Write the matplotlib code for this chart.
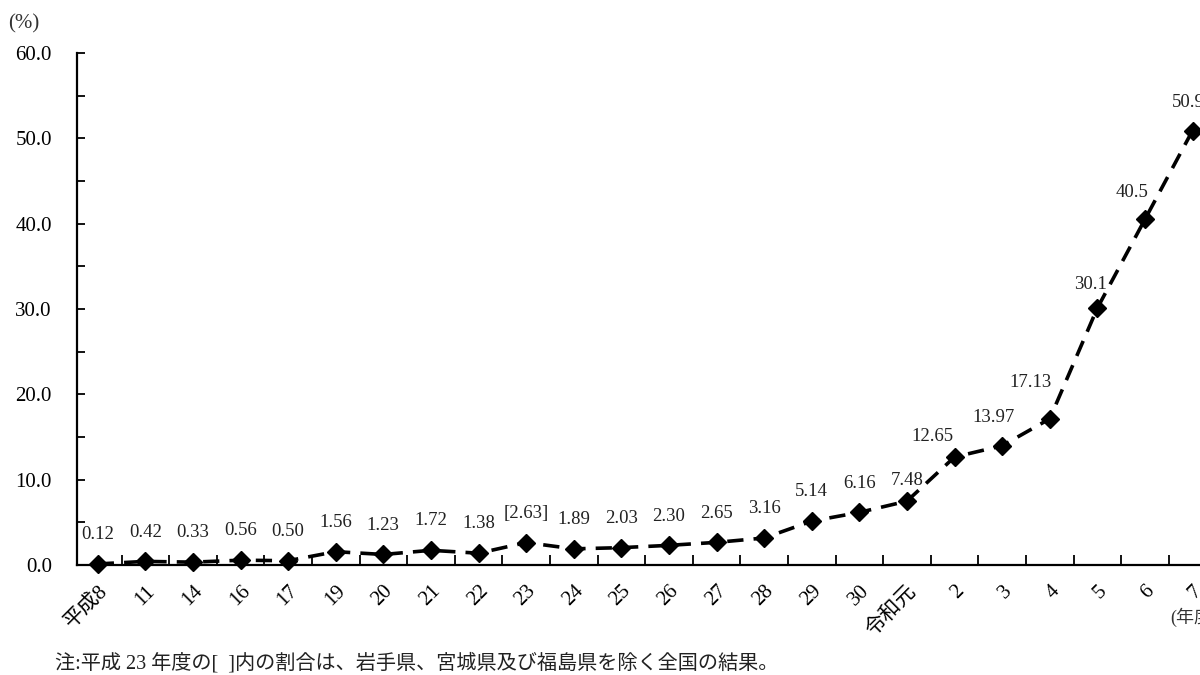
import matplotlib
matplotlib.use("Agg")
import matplotlib.pyplot as plt
from matplotlib.ticker import MultipleLocator

plt.rcParams['font.family'] = ['Liberation Serif', 'Noto Sans CJK JP', 'DejaVu Sans']

categories = ["平成8", "11", "14", "16", "17", "19", "20", "21", "22", "23", "24", "25",
              "26", "27", "28", "29", "30", "令和元", "2", "3", "4", "5", "6", "7"]
values = [0.12, 0.42, 0.33, 0.56, 0.50, 1.56, 1.23, 1.72, 1.38, 2.63, 1.89, 2.03,
          2.30, 2.65, 3.16, 5.14, 6.16, 7.48, 12.65, 13.97, 17.13, 30.1, 40.5, 50.9]
value_labels = ["0.12", "0.42", "0.33", "0.56", "0.50", "1.56", "1.23", "1.72", "1.38",
                "[2.63]", "1.89", "2.03", "2.30", "2.65", "3.16", "5.14", "6.16", "7.48",
                "12.65", "13.97", "17.13", "30.1", "40.5", "50.9"]
y_ticks = [0, 10, 20, 30, 40, 50, 60]
note = "注:平成 23 年度の[  ]内の割合は、岩手県、宮城県及び福島県を除く全国の結果。"

# label offsets in points (style only)
label_dx = [0] * 18 + [-16, -6, -14, -5, -9, -3]
label_dy = [15] * 17 + [9, 9, 14, 20, 11, 13, 14]

fig = plt.figure(figsize=(12, 6.75), dpi=100)
ax = fig.add_axes([0.064, 0.163, 0.9496, 0.7585])

x = list(range(len(categories)))
ax.plot(x, values, color='black', linestyle=(0, (4.5, 2.8)), linewidth=2.6,
        marker='D', markersize=9.5, markerfacecolor='black', markeredgecolor='black',
        clip_on=False, zorder=3)

for i, (v, lab) in enumerate(zip(values, value_labels)):
    ax.annotate(lab, (i, v), xytext=(label_dx[i], label_dy[i]), textcoords='offset points',
                ha='center', va='bottom', fontsize=13.5, color='#222222')

ax.set_xlim(-0.44, len(categories) - 0.5)
ax.set_ylim(0, 60)

ax.set_yticks(y_ticks)
ax.set_yticklabels([f"{t:.1f}" for t in y_ticks], fontsize=15)
ax.yaxis.set_minor_locator(MultipleLocator(5))
ax.tick_params(axis='y', which='both', direction='in', length=6, width=1.3, pad=18)

# x: ticks at category boundaries (unlabelled), labels at category centers
ax.set_xticks([i + 0.5 for i in range(len(categories) - 1)])
ax.set_xticklabels([])
ax.set_xticks(x, minor=True)
ax.set_xticklabels(categories, minor=True, rotation=45, ha='right',
                   rotation_mode='anchor', fontsize=15)
ax.tick_params(axis='x', which='major', direction='in', length=7, width=1.3)
ax.tick_params(axis='x', which='minor', length=0, pad=12)

for s in ['top', 'right']:
    ax.spines[s].set_visible(False)
for s in ['left', 'bottom']:
    ax.spines[s].set_linewidth(1.6)

fig.text(0.007, 0.965, "(%)", fontsize=15, color='#333333', ha='left', va='center')
fig.text(0.975, 0.085, "(年度)", fontsize=13, color='#333333', ha='left', va='center')
fig.text(0.046, 0.018, note, fontsize=14.5, color='#222222', ha='left', va='center')

fig.savefig("out.png", dpi=100)
